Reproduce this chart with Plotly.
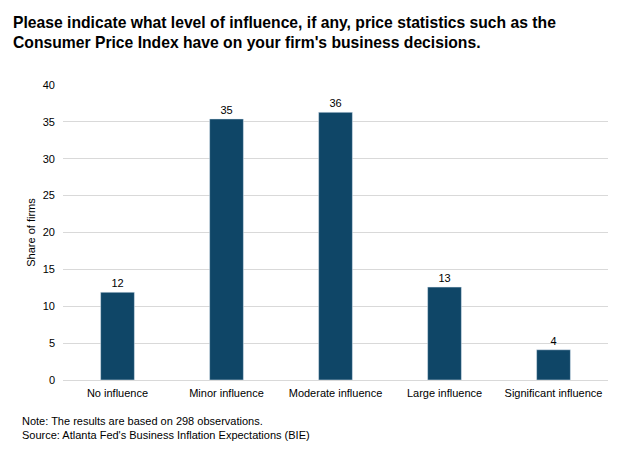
import plotly.graph_objects as go

categories = ["No influence", "Minor influence", "Moderate influence", "Large influence", "Significant influence"]
values = [11.9, 35.4, 36.3, 12.6, 4.1]
labels = ["12", "35", "36", "13", "4"]

W, H = 624, 452
L, R, T, B = 63, 16, 85, 72
pw = W - L - R
ph = H - T - B

def px_x(x):
    return (x - L) / pw

def px_y(y):
    return (H - B - y) / ph

fig = go.Figure(go.Bar(
    x=categories, y=values, text=labels, textposition="outside",
    textfont=dict(size=11, color="#000000", family="Liberation Sans, Arial"),
    marker=dict(color="#0F4667"), width=0.31, cliponaxis=False,
))

fig.update_layout(
    width=W, height=H, margin=dict(l=L, r=R, t=T, b=B),
    plot_bgcolor="white", paper_bgcolor="white",
    font=dict(family="Liberation Sans, Arial", size=11, color="#000000"),
    showlegend=False,
    xaxis=dict(showgrid=False, showline=False, ticks="", ticklabelstandoff=5, tickfont=dict(size=11)),
    yaxis=dict(range=[0, 40], dtick=5, showgrid=True, gridcolor="#D9D9D9", gridwidth=1,
               zeroline=True, zerolinecolor="#D9D9D9", zerolinewidth=1,
               ticks="", ticklabelstandoff=7, tickfont=dict(size=11),
               title=dict(text="Share of firms", font=dict(size=11), standoff=4)),
)

fig.add_annotation(
    text="<b>Please indicate what level of influence, if any, price statistics such as the<br>Consumer Price Index have on your firm's business decisions.</b>",
    xref="paper", yref="paper", x=px_x(11), y=px_y(12), xanchor="left", yanchor="top",
    showarrow=False, align="left", font=dict(size=15.7, color="#000000"),
)
fig.add_annotation(
    text="Note: The results are based on 298 observations.<br>Source: Atlanta Fed's Business Inflation Expectations (BIE)",
    xref="paper", yref="paper", x=px_x(20), y=px_y(413), xanchor="left", yanchor="top",
    showarrow=False, align="left", font=dict(size=11, color="#000000"),
)

fig.write_html("out.html")
